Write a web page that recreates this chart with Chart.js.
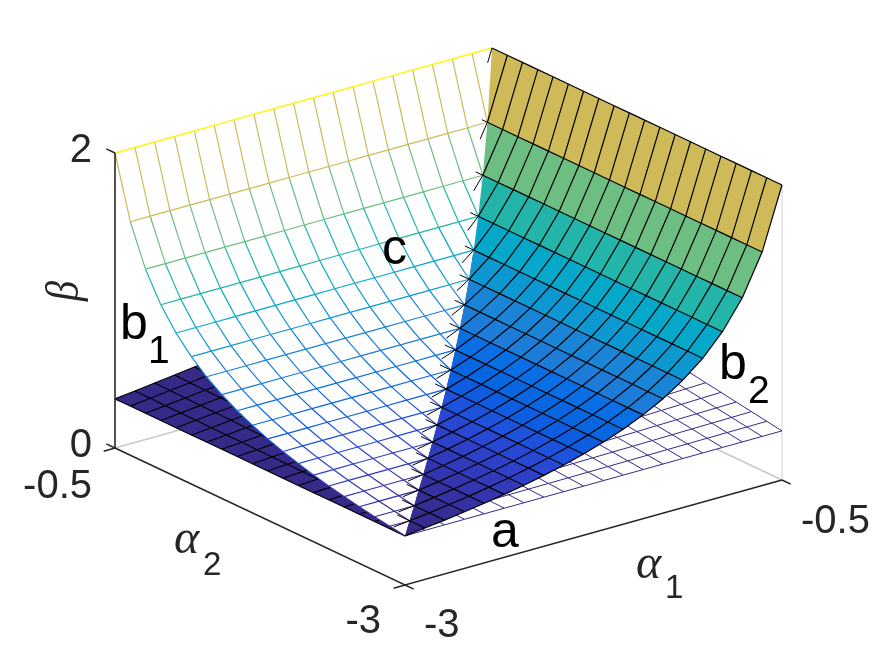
<!DOCTYPE html>
<html>
<head>
<meta charset="utf-8">
<title>surface</title>
<script src="https://cdn.jsdelivr.net/npm/chart.js@4/dist/chart.umd.js"></script>
<style>
    html, body { margin: 0; padding: 0; background: #fff; }
    canvas { display: block; }
</style>
</head>
<body>
<canvas id="chart" width="875" height="656"></canvas>
<script>
// grid lines of the two alpha axes, front to back
const alphaGrid = [-3, -2.868, -2.737, -2.605, -2.474, -2.342, -2.211, -2.079, -1.947, -1.816,
    -1.684, -1.553, -1.421, -1.289, -1.158, -1.026, -0.895, -0.763, -0.632, -0.5]
// beta read at each grid line of the curved surface
const betaGrid = [0.333, 0.349, 0.365, 0.384, 0.404, 0.427, 0.452, 0.481, 0.514, 0.551,
    0.594, 0.644, 0.704, 0.776, 0.864, 0.975, 1.118, 1.31, 1.583, 2]
// how far the floor lifts along its back edges
const floorRise = [0, 0.016, 0.033, 0.049, 0.066, 0.082, 0.099, 0.115, 0.132, 0.148,
    0.164, 0.181, 0.197, 0.214, 0.23, 0.247, 0.263, 0.28, 0.296, 0.3125]
const rowColors = ['#352a87', '#352c8f', '#352e97', '#3531a2', '#3435ae', '#323abc', '#2f40c8', '#2848d4',
    '#1c52dc', '#0e5ce0', '#0867e0', '#0a6ee4', '#1c7cd8', '#1a84d6', '#0e98d2', '#06a8ca',
    '#23b4aa', '#6cbe82', '#cfba5a', '#fff514']
const zTicks = [0, 2]
const zTickLabels = ['0', '2']
const alphaTickLabels = ['-3', '-0.5']

const last = alphaGrid.length - 1
const axisDark = '#262626'
const floorColor = '#352a87'

// fixed MATLAB style view, straight to canvas units
function project(a1, a2, z) {
    return {
        x: 405 + 150.8 * (a1 + 3) - 116 * (a2 + 3),
        y: 585 - 42 * (a1 + 3) - 54.8 * (a2 + 3) - 147.5 * z
    }
}

const floorZ = (i, j) => betaGrid[0] + floorRise[i] * floorRise[j] / floorRise[last]
const floorPt = (i, j) => project(alphaGrid[i], alphaGrid[j], floorZ(i, j))
const rightPt = (i, j) => project(alphaGrid[i], alphaGrid[j], betaGrid[i])
const leftPt = (i, j) => project(alphaGrid[i], alphaGrid[j], betaGrid[j])

const sets = []

function line(data, color, width) {
    sets.push({ data, borderColor: color, borderWidth: width, fill: false })
}
function shape(data, color) {
    sets.push({ data, backgroundColor: color, borderWidth: 0, fill: 'shape' })
}
function range(from, to) {
    const out = []
    for (let n = from; n <= to; n++) out.push(n)
    return out
}

// box lines behind everything
const backBase = project(-0.5, -0.5, 0)
line([project(-3, -0.5, 0), backBase], '#c8c8c8', 1.5)
line([project(-0.5, -3, 0), backBase], '#c8c8c8', 1.5)
line([project(-0.5, -3, 0), project(-0.5, -3, 2)], '#e2e2e2', 1.5)

// floor, right half is white with thin lines
shape([floorPt(0, 0), ...range(0, last).map(j => floorPt(last, j))], '#ffffff')
range(0, last).forEach(k => {
    line(range(0, k).map(j => floorPt(k, j)), floorColor, 1)
    line(range(k, last).map(i => floorPt(i, k)), floorColor, 1)
})

// floor, left half is solid with black lines
shape([...range(0, last).map(i => floorPt(i, last)), ...range(0, last).reverse().map(k => floorPt(k, k))], floorColor)
range(0, last).forEach(k => {
    line(range(0, k).map(i => floorPt(i, k)), '#000000', 1.1)
    line(range(k, last).map(j => floorPt(k, j)), '#000000', 1.1)
})

// curved surface, left half white with coloured lines
shape([...range(0, last).map(j => leftPt(0, j)), ...range(0, last).reverse().map(k => leftPt(k, k))], '#ffffff')
range(0, last).forEach(k => {
    line(range(0, k).map(i => leftPt(i, k)), rowColors[k], k === last ? 1.5 : 1.2)
    for (let j = k; j < last; j++) {
        line([leftPt(k, j), leftPt(k, j + 1)], rowColors[j], 1.2)
    }
})

// curved surface, right half in solid bands
for (let k = 0; k < last; k++) {
    const lower = range(0, k).map(j => rightPt(k, j))
    const upper = range(0, k + 1).reverse().map(j => rightPt(k + 1, j))
    shape([...lower, ...upper], rowColors[k])
}
range(0, last).forEach(k => {
    if (k > 0) line(range(0, k).map(j => rightPt(k, j)), '#000000', 1.2)
    if (k < last) line(range(k, last).map(i => rightPt(i, k)), '#000000', 1.2)
})

// short black stubs poking out of the diagonal
range(1, last).forEach(k => {
    const reach = 0.22 + 0.7 * (1 - betaGrid[k] / 2)
    const step = alphaGrid[k] - alphaGrid[k - 1]
    const from = rightPt(k, k)
    line([from, project(alphaGrid[k] - reach * step, alphaGrid[k],
        betaGrid[k] - reach * (betaGrid[k] - betaGrid[k - 1]))], '#000000', 1)
    if (k < last) {
        line([from, project(alphaGrid[k], alphaGrid[k] + reach * step, betaGrid[k])], '#000000', 1)
    }
})

// axes and their ticks
line([project(-3, -0.5, 0), project(-3, -3, 0), project(-0.5, -3, 0)], axisDark, 1.6)
line([project(-3, -0.5, 0), project(-3, -0.5, 2)], axisDark, 1.6)
const tickLen = 0.075
;[-3, -0.5].forEach(v => {
    line([project(v, -3, 0), project(v, -3 - tickLen, 0)], axisDark, 1.6)
    line([project(-3, v, 0), project(-3 - tickLen, v, 0)], axisDark, 1.6)
})
zTicks.forEach(v => line([project(-3, -0.5, v), project(-3, -0.5 + tickLen, v)], axisDark, 1.6))

// text placed in the same units as the scales
const sans = '"Liberation Sans", Arial, sans-serif'
const serif = '"Liberation Serif", "Times New Roman", serif'
const labels = [
    { t: zTickLabels[1], x: 92, y: 162, f: '40px ' + sans, c: axisDark, a: 'right' },
    { t: zTickLabels[0], x: 92, y: 457, f: '40px ' + sans, c: axisDark, a: 'right' },
    { t: alphaTickLabels[1], x: 92, y: 498, f: '40px ' + sans, c: axisDark, a: 'right' },
    { t: alphaTickLabels[0], x: 381, y: 633, f: '40px ' + sans, c: axisDark, a: 'right' },
    { t: alphaTickLabels[0], x: 424, y: 637, f: '40px ' + sans, c: axisDark, a: 'left' },
    { t: alphaTickLabels[1], x: 801, y: 533, f: '40px ' + sans, c: axisDark, a: 'left' },
    { t: 'a', x: 491, y: 547, f: '50px ' + sans, c: '#000', a: 'left' },
    { t: 'c', x: 382, y: 264, f: '50px ' + sans, c: '#000', a: 'left' },
    { t: 'b', x: 120, y: 339, f: '50px ' + sans, c: '#000', a: 'left' },
    { t: '1', x: 148, y: 363, f: '39px ' + sans, c: '#000', a: 'left' },
    { t: 'b', x: 719, y: 379, f: '50px ' + sans, c: '#000', a: 'left' },
    { t: '2', x: 748, y: 403, f: '39px ' + sans, c: '#000', a: 'left' },
    { t: 'α', x: 636, y: 578, f: 'italic 48px ' + serif, c: axisDark, a: 'left' },
    { t: '1', x: 665, y: 598, f: '33px ' + sans, c: axisDark, a: 'left' },
    { t: 'α', x: 174, y: 553, f: 'italic 48px ' + serif, c: axisDark, a: 'left' },
    { t: '2', x: 203, y: 575, f: '33px ' + sans, c: axisDark, a: 'left' }
]

const textPlugin = {
    id: 'surfaceText',
    afterDatasetsDraw(chart) {
        const { ctx, scales } = chart
        ctx.save()
        ctx.textBaseline = 'alphabetic'
        labels.forEach(l => {
            ctx.font = l.f
            ctx.fillStyle = l.c
            ctx.textAlign = l.a
            ctx.fillText(l.t, scales.x.getPixelForValue(l.x), scales.y.getPixelForValue(l.y))
        })
        // beta sits rotated along the vertical axis, squeezed like the TeX glyph
        ctx.translate(scales.x.getPixelForValue(78), scales.y.getPixelForValue(301))
        ctx.rotate(-Math.PI / 2)
        ctx.scale(0.88, 1)
        ctx.font = 'italic 46px ' + serif
        ctx.fillStyle = axisDark
        ctx.textAlign = 'left'
        ctx.fillText('β', 0, 0)
        ctx.restore()
    }
}

// chart.js paints dataset 0 last, so flip the painter order
new Chart(document.getElementById('chart'), {
    type: 'scatter',
    data: {
        datasets: sets.reverse().map(s => ({ showLine: true, pointRadius: 0, tension: 0, clip: false, ...s }))
    },
    options: {
        responsive: false,
        animation: false,
        layout: { padding: 0 },
        plugins: { legend: { display: false }, tooltip: { enabled: false } },
        scales: {
            x: { type: 'linear', min: 0, max: 875, display: false },
            y: { type: 'linear', min: 0, max: 656, reverse: true, display: false }
        }
    },
    plugins: [textPlugin]
})
</script>
</body>
</html>
